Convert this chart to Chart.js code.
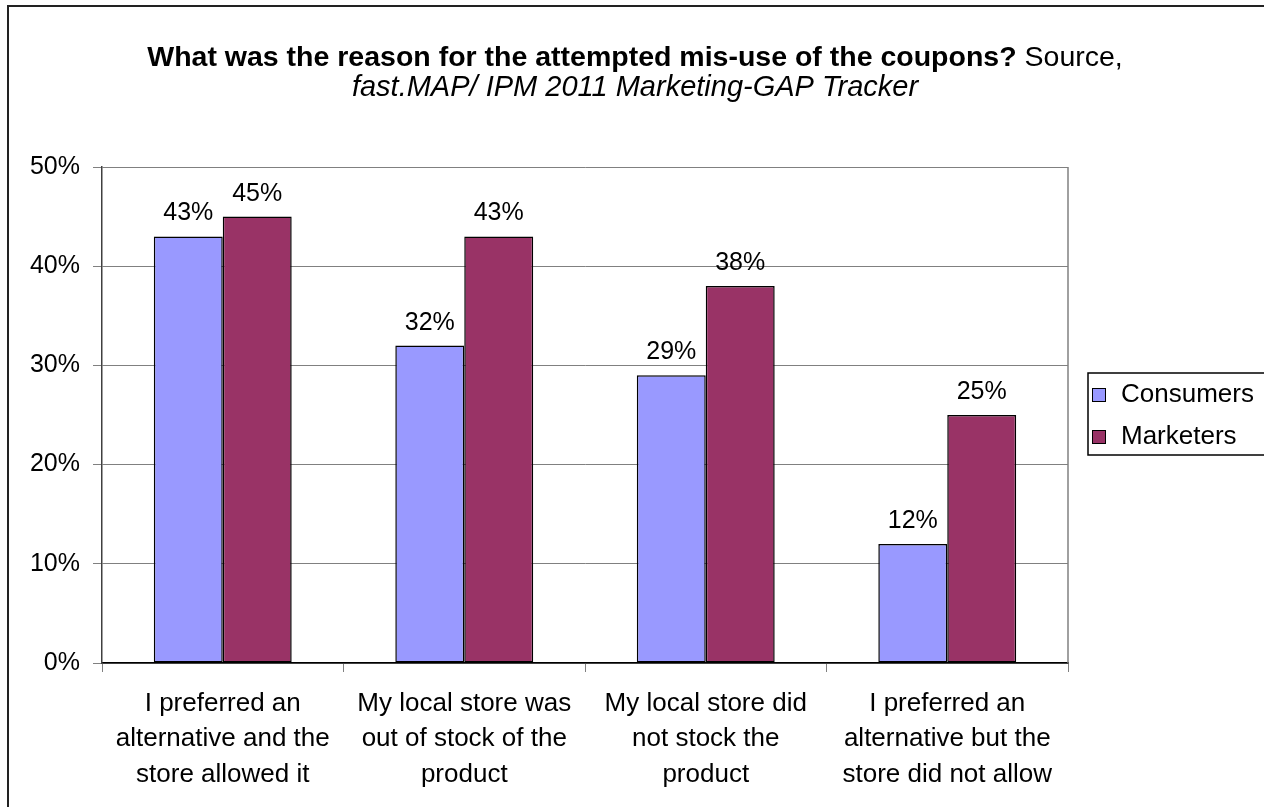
<!DOCTYPE html>
<html>
<head>
<meta charset="utf-8">
<title>Coupon mis-use reasons</title>
<script src="https://cdn.jsdelivr.net/npm/chart.js@4.4.0/dist/chart.umd.min.js"></script>
<style>
  html, body { margin: 0; padding: 0; background: #fff; }
  #wrap { width: 1264px; height: 807px; }
</style>
</head>
<body>
<div id="wrap"><canvas id="couponChart" width="1264" height="807"></canvas></div>
<script>
// Data
const categories = [
    ['I preferred an', 'alternative and the', 'store allowed it'],
    ['My local store was', 'out of stock of the', 'product'],
    ['My local store did', 'not stock the', 'product'],
    ['I preferred an', 'alternative but the', 'store did not allow']
];
const consumers = [43, 32, 29, 12];
const marketers = [45, 43, 38, 25];
const yTicks = [0, 10, 20, 30, 40, 50];

const titleBold = 'What was the reason for the attempted mis-use of the coupons?';
const titleRest = ' Source,';
const subtitle = 'fast.MAP/ IPM 2011 Marketing-GAP Tracker';

const FONT = "'Liberation Sans', Arial, sans-serif";
Chart.defaults.font.family = FONT;
Chart.defaults.color = '#000';

// Outer frame, plot right edge and the two-style title
const framePlugin = {
    id: 'frame',
    beforeDraw(chart) {
        const c = chart.ctx;
        c.save();
        c.fillStyle = '#fff';
        c.fillRect(0, 0, chart.width, chart.height);
        c.strokeStyle = '#222';
        c.lineWidth = 2;
        c.beginPath();
        c.moveTo(8, chart.height);
        c.lineTo(8, 6);
        c.lineTo(chart.width, 6);
        c.stroke();
        c.restore();
    },
    afterDraw(chart) {
        const c = chart.ctx;
        const a = chart.chartArea;
        c.save();
        c.strokeStyle = '#808080';
        c.lineWidth = 1.5;
        c.beginPath();
        c.moveTo(a.right, a.top);
        c.lineTo(a.right, a.bottom);
        c.stroke();

        // title
        const cx = 635;
        c.fillStyle = '#000';
        c.textBaseline = 'middle';
        c.font = 'bold 28.5px ' + FONT;
        const wBold = c.measureText(titleBold).width;
        c.font = '28.5px ' + FONT;
        const wRest = c.measureText(titleRest).width;
        const x = cx - (wBold + wRest) / 2;
        c.textAlign = 'left';
        c.font = 'bold 28.5px ' + FONT;
        c.fillText(titleBold, x, 58);
        c.font = '28.5px ' + FONT;
        c.fillText(titleRest, x + wBold, 58);
        c.textAlign = 'center';
        c.font = 'italic 29px ' + FONT;
        c.fillText(subtitle, cx, 88);
        c.restore();
    }
};

// Percent labels above each bar
const valueLabels = {
    id: 'valueLabels',
    afterDatasetsDraw(chart) {
        const c = chart.ctx;
        c.save();
        c.font = '25px ' + FONT;
        c.fillStyle = '#000';
        c.textAlign = 'center';
        c.textBaseline = 'alphabetic';
        chart.data.datasets.forEach((ds, i) => {
            chart.getDatasetMeta(i).data.forEach((bar, j) => {
                c.fillText(ds.data[j] + '%', bar.x, bar.y - 16);
            });
        });
        c.restore();
    }
};

// Boxed legend on the right
const boxLegend = {
    id: 'boxLegend',
    afterDraw(chart) {
        const c = chart.ctx;
        c.save();
        c.strokeStyle = '#000';
        c.lineWidth = 1.5;
        c.strokeRect(1088, 373, 200, 82);
        c.font = '26px ' + FONT;
        c.textAlign = 'left';
        c.textBaseline = 'middle';
        chart.data.datasets.forEach((ds, i) => {
            const y = 395 + i * 42;
            c.fillStyle = ds.backgroundColor;
            c.fillRect(1092, y - 7, 14, 14);
            c.lineWidth = 1;
            c.strokeRect(1092.5, y - 6.5, 13, 13);
            c.fillStyle = '#000';
            c.fillText(ds.label, 1121, y);
        });
        c.restore();
    }
};

new Chart(document.getElementById('couponChart'), {
    type: 'bar',
    data: {
        labels: categories,
        datasets: [
            {
                label: 'Consumers',
                data: consumers,
                backgroundColor: '#9999FF',
                borderColor: '#000',
                borderWidth: 1.5,
                borderSkipped: false
            },
            {
                label: 'Marketers',
                data: marketers,
                backgroundColor: '#993366',
                borderColor: '#000',
                borderWidth: 1.5,
                borderSkipped: false
            }
        ]
    },
    options: {
        responsive: false,
        animation: false,
        categoryPercentage: 0.571,
        barPercentage: 1,
        layout: { padding: { top: 167, right: 196, left: 0, bottom: 0 } },
        plugins: {
            legend: { display: false },
            title: { display: false },
            tooltip: { enabled: false }
        },
        scales: {
            x: {
                afterFit: (s) => { s.height = 144; },
                grid: {
                    offset: true,
                    drawOnChartArea: false,
                    drawTicks: true,
                    tickLength: 9,
                    color: '#808080'
                },
                border: { color: '#000', width: 1.5 },
                ticks: {
                    font: { size: 26, lineHeight: 1.365 },
                    padding: 14,
                    maxRotation: 0,
                    autoSkip: false
                }
            },
            y: {
                min: 0,
                max: 50,
                afterFit: (s) => { s.width = 102; },
                afterBuildTicks: (s) => { s.ticks = yTicks.map(v => ({ value: v })); },
                grid: { color: '#808080', tickLength: 9, lineWidth: 1 },
                border: { color: '#404040', width: 1.5 },
                ticks: {
                    font: { size: 25 },
                    padding: 13,
                    callback: (v) => v + '%'
                }
            }
        }
    },
    plugins: [framePlugin, valueLabels, boxLegend]
});
</script>
</body>
</html>
